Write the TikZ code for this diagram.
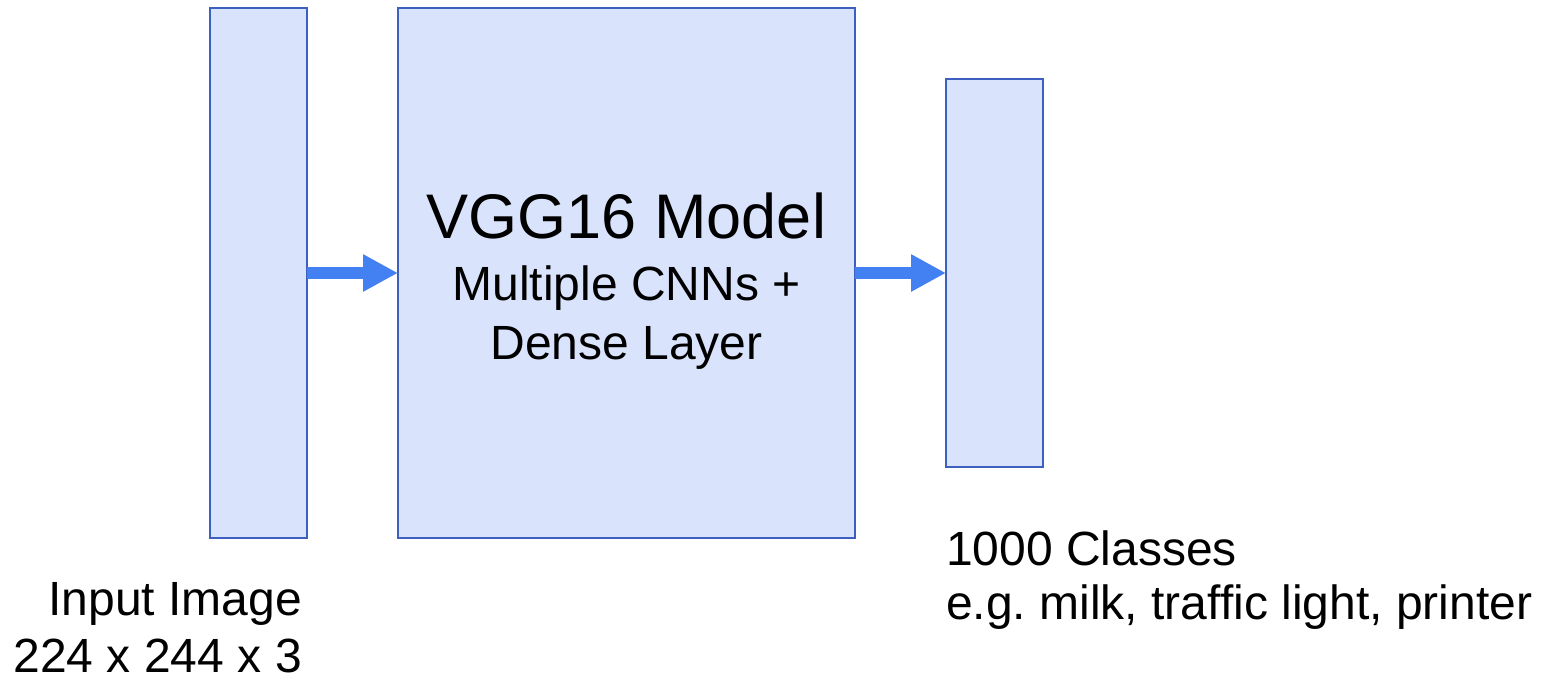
\documentclass[tikz,border=0pt]{standalone}
\usepackage{fontspec}
\setmainfont{Liberation Sans}
\frenchspacing
\usetikzlibrary{arrows.meta}
\definecolor{boxfill}{HTML}{D9E3FC}
\definecolor{boxline}{HTML}{3C5FC0}
\definecolor{flow}{HTML}{4381F2}
\begin{document}
\begin{tikzpicture}[x=1pt,y=-1pt,
  layer/.style={draw=boxline, fill=boxfill, line width=2.6pt, inner sep=0pt, outer sep=0pt, minimum width=#1},
  flowarrow/.style={draw=flow, line width=12pt, -{Triangle[length=35pt,width=35pt]}},
  big/.style={inner sep=0pt, font=\fontsize{63}{75}\selectfont},
  txt/.style={inner sep=0pt, font=\fontsize{48}{57}\selectfont}]
  \useasboundingbox (0,0) rectangle (1544,677);
  % input, model and output blocks
  \node[layer=97pt, minimum height=530pt] (input) at (258.5,273) {};
  \node[layer=457pt, minimum height=530pt] (vgg) at (626.5,273) {};
  \node[layer=97pt, minimum height=388pt] (output) at (994.5,273) {};
  % data flow
  \draw[flowarrow] (input.east) -- (vgg.west);
  \draw[flowarrow] (vgg.east) -- (output.west);
  % model labels
  \node[big, anchor=base] (title) at (626.5,238) {VGG16 Model};
  \node[txt, anchor=base] (sub1) at (626.5,300) {Multiple CNNs +};
  \node[txt, anchor=base] (sub2) at (626.5,359) {Dense Layer};
  % input labels
  \node[txt, anchor=base east] (inname) at (302,615) {Input Image};
  \node[txt, anchor=base east] (insize) at (302,672) {224 x 244 x 3};
  % output labels
  \node[txt, anchor=base west] (outname) at (946,565) {1000 Classes};
  \node[txt, anchor=base west] (outex) at (946,619) {e.g. milk, traffic light, printer};
\end{tikzpicture}
\end{document}
